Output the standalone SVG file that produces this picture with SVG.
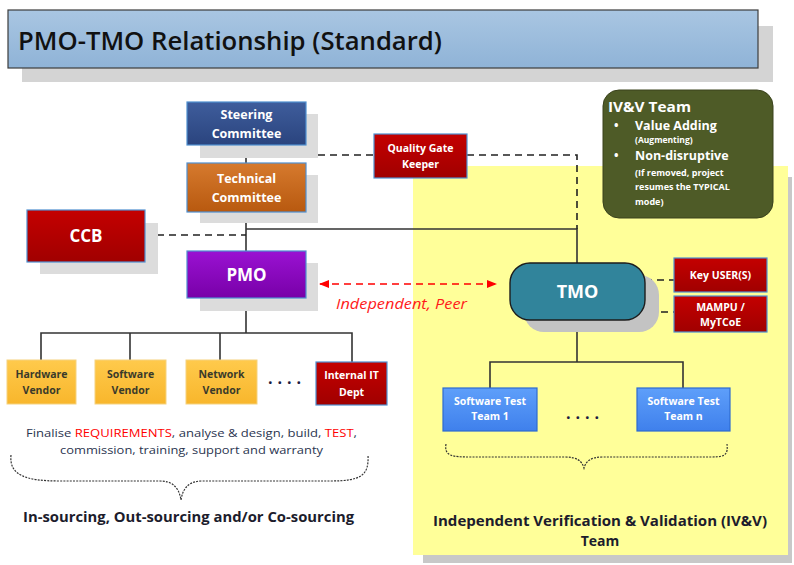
<svg xmlns="http://www.w3.org/2000/svg" width="794" height="565" viewBox="0 0 794 565">
<defs>
<linearGradient id="gBlue" x1="0" y1="0" x2="0" y2="1"><stop offset="0" stop-color="#3f5d9c"/><stop offset="1" stop-color="#2a447e"/></linearGradient>
<linearGradient id="gOrange" x1="0" y1="0" x2="0" y2="1"><stop offset="0" stop-color="#d67a2e"/><stop offset="1" stop-color="#b8590f"/></linearGradient>
<linearGradient id="gPurple" x1="0" y1="0" x2="0" y2="1"><stop offset="0" stop-color="#9a12d2"/><stop offset="1" stop-color="#7800a8"/></linearGradient>
<linearGradient id="gRed" x1="0" y1="0" x2="0" y2="1"><stop offset="0" stop-color="#c40000"/><stop offset="1" stop-color="#a00000"/></linearGradient>
<linearGradient id="gGold" x1="0" y1="0" x2="0" y2="1"><stop offset="0" stop-color="#ffca4c"/><stop offset="1" stop-color="#f8b62c"/></linearGradient>
<linearGradient id="gSky" x1="0" y1="0" x2="0" y2="1"><stop offset="0" stop-color="#5e9ffa"/><stop offset="1" stop-color="#3f80ec"/></linearGradient>
<linearGradient id="gTitle" x1="0" y1="0" x2="0" y2="1"><stop offset="0" stop-color="#a9c6e2"/><stop offset="1" stop-color="#8fb3d7"/></linearGradient>
<marker id="arr" viewBox="0 0 10 10" refX="9" refY="5" markerWidth="10" markerHeight="10" markerUnits="userSpaceOnUse" orient="auto-start-reverse"><path d="M0,1 L10,5 L0,9 z" fill="#ff0000"/></marker>
</defs>
<style>
.sh{fill:#dcdcdc}
.box{stroke:#4f8fd0;stroke-width:1.2}
.wt{font-family:"Open Sans","Noto Sans",sans-serif;font-weight:bold;fill:#ffffff;text-anchor:middle}
.dk{font-family:"Open Sans","Noto Sans",sans-serif;font-weight:bold;fill:#3a3a2a;text-anchor:middle}
.ln{stroke:#333333;stroke-width:1.6;fill:none}
.ds{stroke:#222222;stroke-width:1.6;fill:none;stroke-dasharray:7,5}
.brace{stroke:#333333;stroke-width:1.2;fill:none;stroke-dasharray:2,1.2}
</style>
<rect x="0" y="0" width="794" height="565" fill="#ffffff"/>

<!-- Title -->
<g id="title">
<rect x="22" y="26" width="751" height="56" fill="#d4d4d4"/>
<rect x="8" y="10" width="750" height="58" fill="url(#gTitle)" stroke="#3c3c3c" stroke-width="1.2"/>
<text x="18" y="50" font-family="Open Sans,Noto Sans,sans-serif" font-size="25" font-weight="600" fill="#111111" textLength="424" lengthAdjust="spacingAndGlyphs">PMO-TMO Relationship (Standard)</text>
</g>

<!-- IV&V region -->
<g id="ivv-region">
<rect x="423" y="177" width="369" height="386" fill="#c8c8c8"/>
<rect x="413" y="166" width="375" height="389" fill="#ffff99"/>
</g>

<!-- IV&V Team note -->
<g id="ivv-note">
<rect x="603" y="90" width="170" height="128" rx="16" fill="#4e5b27" stroke="#3a421c" stroke-width="1"/>
<text x="608" y="112" font-family="Open Sans,Noto Sans,sans-serif" font-weight="bold" font-size="14.5" fill="#ffffff" textLength="83" lengthAdjust="spacingAndGlyphs">IV&amp;V Team</text>
<text font-family="Open Sans,Noto Sans,sans-serif" font-weight="bold" fill="#ffffff">
<tspan x="614" y="130" font-size="12">•</tspan>
<tspan x="635" y="130" font-size="12.5">Value Adding</tspan>
<tspan x="635" y="143" font-size="8.5">(Augmenting)</tspan>
<tspan x="614" y="160" font-size="12">•</tspan>
<tspan x="635" y="160" font-size="12.5">Non-disruptive</tspan>
<tspan x="635" y="176" font-size="9">(If removed, project</tspan>
<tspan x="635" y="190" font-size="9">resumes the TYPICAL</tspan>
<tspan x="635" y="205" font-size="9">mode)</tspan>
</text>
</g>

<!-- Connectors -->
<g id="connectors">
<path class="ln" d="M246,145 V163"/>
<path class="ln" d="M246,212 V251"/>
<path class="ln" d="M246,229 H577 V263"/>
<path class="ds" d="M246,155 H374"/>
<path class="ds" d="M467,155 H577 V229"/>
<path class="ds" d="M145,235 H246"/>
<path class="ln" d="M246,298 V333"/>
<path class="ln" d="M41,360 V333 H352 V362"/>
<path class="ln" d="M130,333 V360"/>
<path class="ln" d="M220,333 V360"/>
<path class="ds" d="M645,280 H674"/>
<path class="ds" d="M637,312 H674"/>
<path class="ln" d="M577,320 V362"/>
<path class="ln" d="M490,388 V362 H683 V388"/>
<path d="M320,284 H496" stroke="#ff0000" stroke-width="1.6" stroke-dasharray="7,5" fill="none" marker-start="url(#arr)" marker-end="url(#arr)"/>
</g>

<!-- Steering -->
<g id="steering">
<rect class="sh" x="200" y="114" width="118" height="44"/>
<rect class="box" x="187" y="102" width="119" height="43" fill="url(#gBlue)"/>
<text class="wt" font-size="12.5"><tspan x="246.5" y="119">Steering</tspan><tspan x="246.5" y="138">Committee</tspan></text>
</g>

<!-- Technical -->
<g id="technical">
<rect class="sh" x="200" y="175" width="118" height="48"/>
<rect class="box" x="187" y="163" width="119" height="49" fill="url(#gOrange)"/>
<text class="wt" font-size="12.5"><tspan x="246.5" y="183">Technical</tspan><tspan x="246.5" y="202">Committee</tspan></text>
</g>

<!-- PMO -->
<g id="pmo">
<rect class="sh" x="200" y="263" width="118" height="48"/>
<rect class="box" x="187" y="251" width="119" height="47" fill="url(#gPurple)"/>
<text class="wt" font-size="17" x="246.5" y="281">PMO</text>
</g>

<!-- CCB -->
<g id="ccb">
<rect class="sh" x="40" y="223" width="118" height="51"/>
<rect class="box" x="27" y="210" width="118" height="52" fill="url(#gRed)"/>
<text class="wt" font-size="17" x="86" y="242">CCB</text>
</g>

<!-- Quality Gate Keeper -->
<g id="qgk">
<rect class="box" x="374" y="134" width="93" height="44" fill="url(#gRed)"/>
<text class="wt" font-size="10.5"><tspan x="420.5" y="152">Quality Gate</tspan><tspan x="420.5" y="168">Keeper</tspan></text>
</g>

<!-- Vendors -->
<g id="hardware">
<rect x="7" y="360" width="69" height="44" fill="url(#gGold)" stroke="#f5d27e" stroke-width="1"/>
<text class="dk" font-size="10.5"><tspan x="41.5" y="378">Hardware</tspan><tspan x="41.5" y="394">Vendor</tspan></text>
</g>
<g id="software">
<rect x="95" y="360" width="71" height="44" fill="url(#gGold)" stroke="#f5d27e" stroke-width="1"/>
<text class="dk" font-size="10.5"><tspan x="130.5" y="378">Software</tspan><tspan x="130.5" y="394">Vendor</tspan></text>
</g>
<g id="network">
<rect x="186" y="360" width="71" height="44" fill="url(#gGold)" stroke="#f5d27e" stroke-width="1"/>
<text class="dk" font-size="10.5"><tspan x="221.5" y="378">Network</tspan><tspan x="221.5" y="394">Vendor</tspan></text>
</g>
<g id="vendor-dots">
<text x="287" y="384" font-family="Open Sans,Noto Sans,sans-serif" font-weight="bold" font-size="16" fill="#1a1a40" text-anchor="middle" letter-spacing="5">....</text>
</g>
<g id="internal-it">
<rect x="316" y="362" width="71" height="43" fill="url(#gRed)" stroke="#4f8fd0" stroke-width="1.2"/>
<text class="wt" font-size="10.5"><tspan x="351.5" y="379">Internal IT</tspan><tspan x="351.5" y="396">Dept</tspan></text>
</g>

<!-- Finalise text and brace -->
<g id="left-caption">
<text font-family="Open Sans,Noto Sans,sans-serif" font-size="11.5" fill="#2b3550">
<tspan x="26" y="437" textLength="331" lengthAdjust="spacingAndGlyphs">Finalise <tspan fill="#ff0000">REQUIREMENTS</tspan>, analyse &amp; design, build, <tspan fill="#ff0000">TEST</tspan>,</tspan>
<tspan x="60" y="454" textLength="263" lengthAdjust="spacingAndGlyphs">commission, training, support and warranty</tspan>
</text>
<path class="brace" d="M11,455 C9,475 25,481 60,481 H160 C172,481 179,487 181,500 C183,487 190,481 202,481 H330 C362,481 369,475 368,455"/>
<text x="23" y="522" font-family="Open Sans,Noto Sans,sans-serif" font-weight="bold" font-size="14" fill="#1c1c2c" textLength="331" lengthAdjust="spacingAndGlyphs">In-sourcing, Out-sourcing and/or Co-sourcing</text>
</g>

<!-- TMO -->
<g id="tmo">
<rect x="524" y="275" width="135" height="57" rx="20" fill="#c3c3c3"/>
<rect x="510" y="263" width="135" height="57" rx="20" fill="#31849b" stroke="#1d1d1d" stroke-width="1.4"/>
<text class="wt" font-size="18" x="577.5" y="298">TMO</text>
</g>

<!-- Key users -->
<g id="key-users">
<rect class="box" x="674" y="258" width="93" height="34" fill="url(#gRed)"/>
<text class="wt" font-size="10.5" x="720.5" y="279">Key USER(S)</text>
</g>
<g id="mampu">
<rect class="box" x="674" y="296" width="93" height="36" fill="url(#gRed)"/>
<text class="wt" font-size="10.5"><tspan x="720.5" y="311">MAMPU /</tspan><tspan x="720.5" y="326">MyTCoE</tspan></text>
</g>

<!-- Software Test Teams -->
<g id="test-team-1">
<rect x="443" y="388" width="94" height="43" fill="url(#gSky)" stroke="#2d6bd0" stroke-width="1.2"/>
<text class="wt" font-size="10.5"><tspan x="490" y="405">Software Test</tspan><tspan x="490" y="420">Team 1</tspan></text>
</g>
<g id="team-dots">
<text x="585" y="419" font-family="Open Sans,Noto Sans,sans-serif" font-weight="bold" font-size="16" fill="#1a1a40" text-anchor="middle" letter-spacing="5">....</text>
</g>
<g id="test-team-n">
<rect x="637" y="388" width="93" height="43" fill="url(#gSky)" stroke="#2d6bd0" stroke-width="1.2"/>
<text class="wt" font-size="10.5"><tspan x="683.5" y="405">Software Test</tspan><tspan x="683.5" y="420">Team n</tspan></text>
</g>

<!-- Right caption -->
<g id="right-caption">
<path class="brace" d="M446,444 C444,456 452,457 470,457 H565 C577,457 582,461 584,468 C586,461 591,457 603,457 H712 C726,457 728,454 727,444"/>
<text font-family="Open Sans,Noto Sans,sans-serif" font-weight="bold" font-size="14" fill="#1c1c2c"><tspan x="433" y="526" textLength="334" lengthAdjust="spacingAndGlyphs">Independent Verification &amp; Validation (IV&amp;V)</tspan><tspan x="600" y="546" text-anchor="middle">Team</tspan></text>
</g>

<!-- Independent, Peer label -->
<g id="peer-label">
<text x="336" y="309" font-family="Open Sans,Noto Sans,sans-serif" font-style="italic" font-size="14" fill="#ff1a1a" textLength="131" lengthAdjust="spacingAndGlyphs">Independent, Peer</text>
</g>
</svg>
